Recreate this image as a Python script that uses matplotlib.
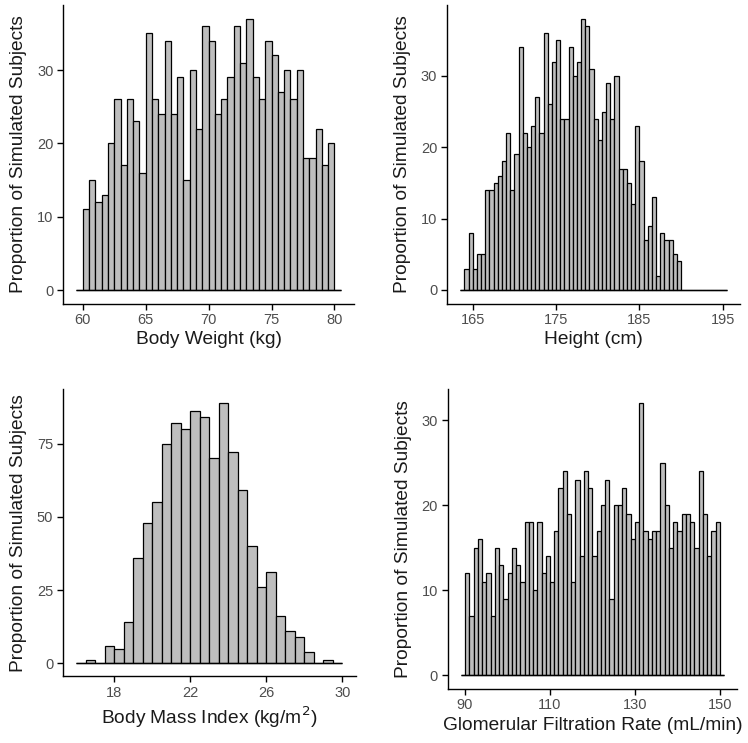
import numpy as np
import matplotlib
matplotlib.use('Agg')
import matplotlib.pyplot as plt

matplotlib.rcParams['font.family'] = ['Liberation Sans', 'DejaVu Sans']

# counts per bin for each simulated covariate (zero bins at the ends are part of the range)
weight_edges = np.arange(59.5, 80.5, 0.5)
weight_counts = [0,
                 11, 15, 12, 13, 20, 26, 17, 26, 23, 16,
                 35, 26, 24, 34, 24, 29, 15, 30, 22, 36,
                 34, 24, 26, 29, 36, 31, 37, 29, 26, 34,
                 32, 27, 30, 26, 30, 18, 18, 22, 17, 20,
                 0]

height_edges = np.arange(163.5, 195.5, 0.5)
height_counts = [0,
                 3, 8, 3, 5, 5, 14, 14, 15, 16, 18,
                 22, 14, 19, 34, 22, 20, 23, 27, 22, 36,
                 26, 32, 35, 24, 24, 34, 30, 32, 38, 37,
                 31, 24, 21, 25, 29, 24, 30, 17, 17, 15,
                 12, 23, 18, 7, 9, 13, 2, 8, 7, 7,
                 5, 4,
                 0, 0, 0, 0, 0, 0, 0, 0, 0, 0, 0]

bmi_edges = np.arange(16, 30, 0.5)
bmi_counts = [0, 1, 0, 6, 5, 14, 36, 48, 55, 75, 82, 80, 86, 84,
              70, 89, 72, 59, 40, 26, 31, 16, 11, 9, 4, 0, 1, 0]

gfr_edges = np.arange(89, 151, 1)
gfr_counts = [0,
              12, 7, 15, 16, 11, 12, 7, 15, 13, 9,
              12, 15, 13, 11, 18, 18, 10, 18, 12, 14,
              11, 17, 22, 24, 19, 11, 23, 14, 24, 22,
              14, 17, 20, 23, 9, 20, 20, 22, 19, 16,
              18, 32, 17, 16, 17, 17, 25, 20, 15, 18,
              17, 19, 19, 18, 15, 24, 19, 14, 17, 18,
              0]

panels = [
    (weight_edges, 0.5, weight_counts, 'Body Weight (kg)', [60, 65, 70, 75, 80], [0, 10, 20, 30],
     [0.0846, 0.5914, 0.3886, 0.4015]),
    (height_edges, 0.5, height_counts, 'Height (cm)', [165, 175, 185, 195], [0, 10, 20, 30],
     [0.5975, 0.5915, 0.3920, 0.4015]),
    (bmi_edges, 0.5, bmi_counts, 'Body Mass Index (kg/m$^2$)', [18, 22, 26, 30], [0, 25, 50, 75],
     [0.0842, 0.0898, 0.3912, 0.3860]),
    (gfr_edges, 1.0, gfr_counts, 'Glomerular Filtration Rate (mL/min)', [90, 110, 130, 150], [0, 10, 20, 30],
     [0.5984, 0.0732, 0.3874, 0.4027]),
]


def expand(lo, hi, mult=0.05):
    pad = (hi - lo) * mult
    return lo - pad, hi + pad


fig = plt.figure(figsize=(7.48, 7.43), dpi=100)

for edges, width, counts, xlabel, xticks, yticks, pos in panels:
    ax = fig.add_axes(pos)
    ax.bar(edges, counts, width=width, align='edge', color='#bebebe',
           edgecolor='black', linewidth=0.9)
    # empty bins still show as a flat line along zero
    x_lo, x_hi = edges[0], edges[-1] + width
    ax.hlines(0, x_lo, x_hi, color='black', linewidth=1.0, zorder=3)
    ax.set_xlim(*expand(x_lo, x_hi))
    ax.set_ylim(*expand(0, max(counts)))
    ax.set_xticks(xticks)
    ax.set_yticks(yticks)
    ax.set_xlabel(xlabel, fontsize=13.8, color='#1a1a1a', labelpad=3)
    ax.set_ylabel('Proportion of Simulated Subjects', fontsize=13.8, color='#1a1a1a', labelpad=7)
    for side in ['top', 'right']:
        ax.spines[side].set_visible(False)
    for side in ['left', 'bottom']:
        ax.spines[side].set_linewidth(1.0)
    ax.tick_params(length=4, width=1.0, labelsize=10.5, labelcolor='#4d4d4d', pad=3)

plt.savefig('out.png', dpi=100)
